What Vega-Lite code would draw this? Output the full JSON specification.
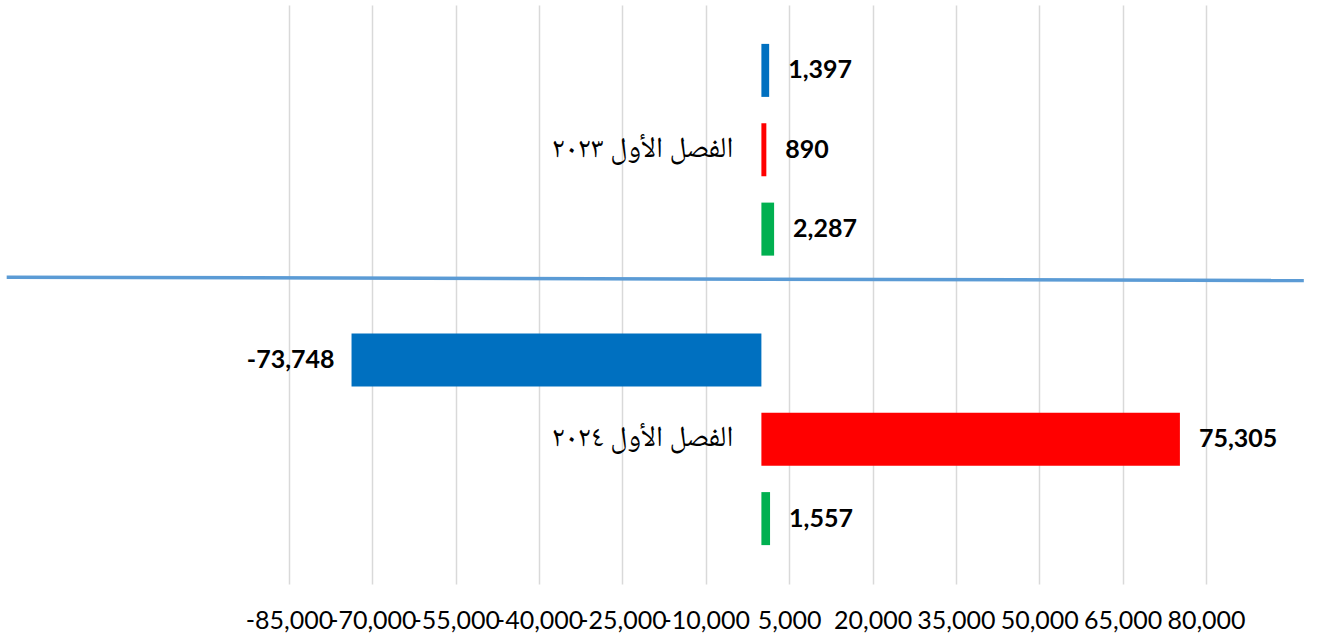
{
  "$schema": "https://vega.github.io/schema/vega-lite/v6.json",
  "width": 917,
  "height": 579,
  "autosize": "none",
  "padding": {"left": 289, "top": 5, "right": 113, "bottom": 56},
  "config": {
    "view": {"stroke": null},
    "locale": {"number": {"decimal": ".", "thousands": ",", "grouping": [3], "currency": ["$", ""], "minus": "-"}}
  },
  "datasets": {
    "bars": [
      {"period": "الفصل الأول ٢٠٢٣", "series": "Series 1", "value": 1397},
      {"period": "الفصل الأول ٢٠٢٣", "series": "Series 2", "value": 890},
      {"period": "الفصل الأول ٢٠٢٣", "series": "Series 3", "value": 2287},
      {"period": "الفصل الأول ٢٠٢٤", "series": "Series 1", "value": -73748},
      {"period": "الفصل الأول ٢٠٢٤", "series": "Series 2", "value": 75305},
      {"period": "الفصل الأول ٢٠٢٤", "series": "Series 3", "value": 1557}
    ],
    "periods": [
      {"period": "الفصل الأول ٢٠٢٣"},
      {"period": "الفصل الأول ٢٠٢٤"}
    ],
    "sep": [{"x1": -135800, "x2": 97600, "y1": 0.530, "y2": 0.524}]
  },
  "resolve": {"scale": {"y": "independent", "yOffset": "independent"}},
  "layer": [
    {
      "data": {"name": "bars"},
      "mark": {"type": "bar"},
      "encoding": {
        "y": {"field": "period", "type": "nominal", "sort": null, "axis": null, "scale": {"paddingInner": 0, "paddingOuter": 0}},
        "yOffset": {"field": "series", "type": "nominal", "sort": null, "scale": {"paddingInner": 0.332, "paddingOuter": 0.49}},
        "x": {
          "field": "value", "type": "quantitative",
          "scale": {"domain": [-85000, 80000], "nice": false, "zero": false},
          "axis": {
            "title": null,
            "values": [-85000, -70000, -55000, -40000, -25000, -10000, 5000, 20000, 35000, 50000, 65000, 80000],
            "format": ",.0f",
            "grid": true, "gridColor": "#D9D9D9", "gridWidth": 1.5,
            "domain": false, "ticks": false,
            "labelOverlap": false, "labelFlush": false, "labelBound": false,
            "labelFont": "Lato", "labelFontSize": 25, "labelColor": "#000000",
            "labelPadding": 24
          }
        },
        "color": {
          "field": "series", "type": "nominal", "legend": null,
          "scale": {"domain": ["Series 1", "Series 2", "Series 3"], "range": ["#0070C0", "#FF0000", "#00B050"]}
        }
      }
    },
    {
      "mark": {"type": "rule", "color": "#D9D9D9", "strokeWidth": 1.5},
      "encoding": {"x": {"datum": 0}}
    },
    {
      "data": {"name": "bars"},
      "transform": [{"filter": "datum.value >= 0"}],
      "mark": {"type": "text", "align": "left", "baseline": "middle", "dx": 19, "font": "Lato", "fontWeight": "bold", "fontSize": 25, "color": "#000000"},
      "encoding": {
        "y": {"field": "period", "type": "nominal", "sort": null, "axis": null, "scale": {"domain": ["الفصل الأول ٢٠٢٣", "الفصل الأول ٢٠٢٤"], "paddingInner": 0, "paddingOuter": 0}},
        "yOffset": {"field": "series", "type": "nominal", "scale": {"type": "point", "domain": ["Series 1", "Series 2", "Series 3"], "padding": 0.8253}},
        "x": {"field": "value", "type": "quantitative"},
        "text": {"field": "value", "format": ",.0f"}
      }
    },
    {
      "data": {"name": "bars"},
      "transform": [{"filter": "datum.value < 0"}],
      "mark": {"type": "text", "align": "right", "baseline": "middle", "dx": -17, "font": "Lato", "fontWeight": "bold", "fontSize": 25, "color": "#000000"},
      "encoding": {
        "y": {"field": "period", "type": "nominal", "sort": null, "axis": null, "scale": {"domain": ["الفصل الأول ٢٠٢٣", "الفصل الأول ٢٠٢٤"], "paddingInner": 0, "paddingOuter": 0}},
        "yOffset": {"field": "series", "type": "nominal", "scale": {"type": "point", "domain": ["Series 1", "Series 2", "Series 3"], "padding": 0.8253}},
        "x": {"field": "value", "type": "quantitative"},
        "text": {"field": "value", "format": ",.0f"}
      }
    },
    {
      "data": {"name": "periods"},
      "mark": {"type": "text", "align": "right", "baseline": "middle", "dx": -28, "dy": -2, "font": "Noto Naskh Arabic, Amiri, Scheherazade New, DejaVu Serif, serif", "fontSize": 29, "color": "#000000"},
      "encoding": {
        "y": {"field": "period", "type": "nominal", "sort": null, "axis": null, "scale": {"paddingInner": 0, "paddingOuter": 0}},
        "x": {"datum": 0},
        "text": {"field": "period"}
      }
    },
    {
      "data": {"name": "sep"},
      "mark": {"type": "rule", "color": "#5B9BD5", "strokeWidth": 3.5, "clip": false},
      "encoding": {
        "x": {"field": "x1", "type": "quantitative"},
        "x2": {"field": "x2"},
        "y": {"field": "y1", "type": "quantitative", "axis": null, "scale": {"domain": [0, 1], "nice": false, "zero": false}},
        "y2": {"field": "y2"}
      }
    }
  ]
}
